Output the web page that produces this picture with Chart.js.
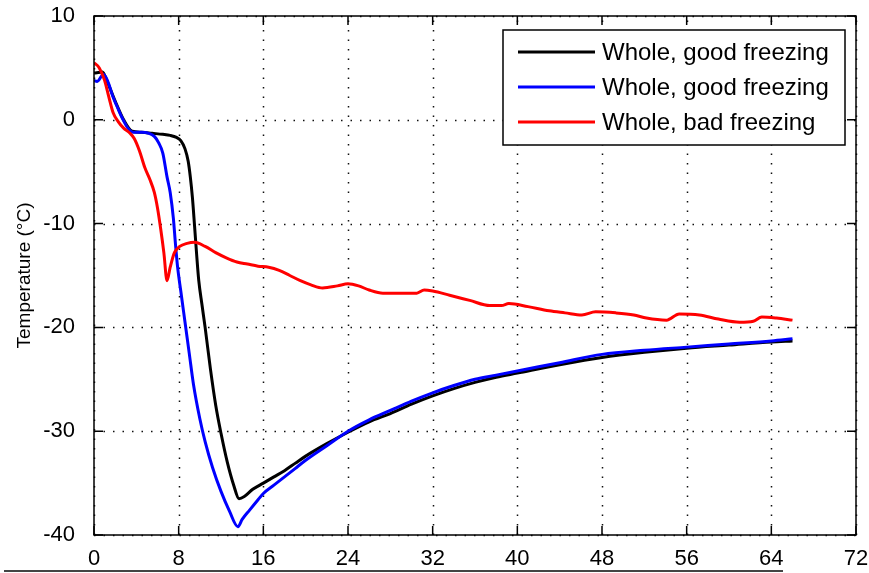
<!DOCTYPE html>
<html>
<head>
<meta charset="utf-8">
<script src="https://cdn.jsdelivr.net/npm/chart.js@4/dist/chart.umd.min.js"></script>
<style>
  html, body { margin: 0; padding: 0; background: #fff; }
  #wrap { width: 869px; height: 573px; }
</style>
</head>
<body>
<div id="wrap"><canvas id="tempChart" width="869" height="573"></canvas></div>
<script>
// Series values (time in hours, temperature in C)
var blackX = [0, 0.8, 1.2, 2.0, 2.8, 3.6, 4.5, 5.5, 6.5, 7.2, 7.8, 8.2, 8.6, 8.9, 9.1, 9.3, 9.5, 9.7, 9.9, 10.2,
  10.5, 11.0, 11.5, 12.0, 12.6, 13.2, 13.7, 14.2, 15.0, 16.0, 17.0, 18.0, 19.0, 20.0, 22.0, 24.0, 26.0, 28.0,
  30.0, 32.0, 34.0, 36.0, 38.0, 40.0, 44.0, 48.0, 52.0, 56.0, 60.0, 64.0, 66.0];
var blackY = [4.5, 4.6, 3.8, 1.8, 0.0, -1.1, -1.2, -1.3, -1.4, -1.5, -1.7, -2.0, -2.8, -4.0, -5.5, -7.5, -10.2, -13.0, -15.5, -17.8,
  -20.0, -24.0, -27.5, -30.2, -33.0, -35.2, -36.5, -36.3, -35.6, -35.0, -34.4, -33.8, -33.1, -32.4, -31.2, -30.1, -29.1, -28.3,
  -27.4, -26.6, -25.9, -25.3, -24.8, -24.4, -23.6, -22.9, -22.4, -22.0, -21.7, -21.4, -21.3];

var blueX = [0, 0.3, 0.9, 1.3, 1.8, 2.3, 2.7, 3.2, 3.7, 4.5, 5.2, 5.7, 6.1, 6.5, 6.9, 7.2, 7.5, 7.7, 7.9, 8.2,
  8.6, 9.0, 9.4, 10.0, 10.5, 11.2, 12.0, 12.8, 13.6, 14.0, 14.7, 15.5, 16.0, 17.0, 18.0, 19.0, 20.0, 22.0,
  24.0, 26.0, 28.0, 30.0, 32.0, 34.0, 36.0, 38.0, 40.0, 44.0, 48.0, 52.0, 56.0, 60.0, 64.0, 66.0];
var blueY = [3.8, 3.7, 4.4, 3.7, 2.2, 1.0, 0.1, -0.8, -1.2, -1.2, -1.3, -1.6, -2.2, -3.2, -5.5, -7.0, -9.5, -12.0, -14.2, -16.5,
  -19.5, -22.5, -25.5, -28.8, -31.0, -33.5, -35.8, -37.7, -39.2, -38.5, -37.6, -36.6, -36.0, -35.2, -34.4, -33.6, -32.8, -31.4,
  -30.0, -28.9, -28.0, -27.1, -26.3, -25.6, -25.0, -24.6, -24.2, -23.4, -22.6, -22.2, -21.9, -21.6, -21.3, -21.1];

var redX = [0, 0.5, 1.0, 1.4, 1.8, 2.3, 2.8, 3.4, 3.8, 4.3, 4.8, 5.3, 5.7, 6.0, 6.3, 6.6, 6.9, 7.2, 7.6, 8.1,
  8.8, 9.5, 10.5, 11.5, 12.5, 13.5, 14.5, 15.5, 16.5, 17.5, 18.5, 19.5, 20.5, 21.6, 23.0, 24.0, 25.0, 26.0,
  27.3, 29.0, 30.5, 31.2, 32.0, 33.6, 35.5, 37.4, 38.5, 39.2, 41.0, 43.0, 44.5, 46.1, 47.4, 49.3, 51.0, 52.2,
  54.1, 55.3, 57.2, 59.0, 61.0, 62.3, 63.1, 64.5, 66.0];
var redY = [5.5, 5.0, 3.8, 2.2, 0.7, -0.2, -0.8, -1.3, -1.8, -3.0, -4.6, -5.8, -7.0, -8.5, -10.5, -12.8, -15.5, -14.2, -12.8, -12.2,
  -11.9, -11.8, -12.2, -12.8, -13.3, -13.7, -13.9, -14.1, -14.2, -14.5, -15.0, -15.5, -15.9, -16.2, -16.0, -15.8, -16.0, -16.4,
  -16.7, -16.7, -16.7, -16.4, -16.5, -16.9, -17.4, -17.9, -17.9, -17.7, -18.0, -18.4, -18.6, -18.8, -18.5, -18.6, -18.8, -19.1,
  -19.3, -18.7, -18.8, -19.2, -19.5, -19.4, -19.0, -19.1, -19.3];

var seriesLabels = ['Whole, good freezing', 'Whole, good freezing', 'Whole, bad freezing'];
var seriesColors = ['#000000', '#0000ff', '#ff0000'];

// Axis ticks
var xTicks = [0, 8, 16, 24, 32, 40, 48, 56, 64, 72];
var yTicks = [-40, -30, -20, -10, 0, 10];

function toPoints(xs, ys) {
    return xs.map(function (x, i) { return { x: x, y: ys[i] }; });
}

// Draws the MATLAB style box: dotted grid, frame, inward ticks, legend
var matlabFrame = {
    id: 'matlabFrame',
    beforeDatasetsDraw: function (chart) {
        var ctx = chart.ctx;
        var area = chart.chartArea;
        var xs = chart.scales.x, ys = chart.scales.y;
        ctx.save();
        ctx.strokeStyle = '#111';
        ctx.lineWidth = 1.5;
        ctx.setLineDash([1.5, 8]);
        xTicks.forEach(function (v) {
            var px = Math.round(xs.getPixelForValue(v)) + 0.5;
            ctx.beginPath();
            ctx.moveTo(px, area.bottom);
            ctx.lineTo(px, area.top);
            ctx.stroke();
        });
        yTicks.forEach(function (v) {
            var py = Math.round(ys.getPixelForValue(v)) + 0.5;
            ctx.beginPath();
            ctx.moveTo(area.left, py);
            ctx.lineTo(area.right, py);
            ctx.stroke();
        });
        ctx.restore();
    },
    afterDatasetsDraw: function (chart) {
        var ctx = chart.ctx;
        var area = chart.chartArea;
        var xs = chart.scales.x, ys = chart.scales.y;
        ctx.save();
        ctx.setLineDash([]);
        ctx.strokeStyle = '#000';
        ctx.lineWidth = 1.5;
        ctx.strokeRect(area.left, area.top, area.right - area.left, area.bottom - area.top);

        // inward tick marks on all four sides
        var tl = 9;
        ctx.beginPath();
        xTicks.forEach(function (v) {
            var px = xs.getPixelForValue(v);
            ctx.moveTo(px, area.bottom); ctx.lineTo(px, area.bottom - tl);
            ctx.moveTo(px, area.top); ctx.lineTo(px, area.top + tl);
        });
        yTicks.forEach(function (v) {
            var py = ys.getPixelForValue(v);
            ctx.moveTo(area.left, py); ctx.lineTo(area.left + tl, py);
            ctx.moveTo(area.right, py); ctx.lineTo(area.right - tl, py);
        });
        ctx.stroke();

        // legend box in the top right corner
        var bx = 503, by = 30, bw = 342, bh = 115;
        ctx.fillStyle = '#fff';
        ctx.fillRect(bx, by, bw, bh);
        ctx.strokeRect(bx, by, bw, bh);
        ctx.font = '24px "Liberation Sans", Arial, sans-serif';
        ctx.textBaseline = 'middle';
        ctx.textAlign = 'left';
        chart.data.datasets.forEach(function (ds, i) {
            var rowY = 52 + i * 35;
            ctx.strokeStyle = ds.borderColor;
            ctx.lineWidth = 3;
            ctx.beginPath();
            ctx.moveTo(518, rowY);
            ctx.lineTo(595, rowY);
            ctx.stroke();
            ctx.fillStyle = '#000';
            ctx.fillText(ds.label, 602, rowY + 1);
        });

        // thin rule along the bottom edge of the picture
        ctx.strokeStyle = '#444';
        ctx.lineWidth = 2;
        ctx.beginPath();
        ctx.moveTo(4, 571);
        ctx.lineTo(783, 571);
        ctx.stroke();
        ctx.restore();
    }
};

var ctx = document.getElementById('tempChart').getContext('2d');
var tempChart = new Chart(ctx, {
    type: 'line',
    data: {
        // order: later series are drawn on top, like the original plot
        datasets: [
            { label: seriesLabels[0], data: toPoints(blackX, blackY), borderColor: seriesColors[0], order: 2 },
            { label: seriesLabels[1], data: toPoints(blueX, blueY), borderColor: seriesColors[1], order: 1 },
            { label: seriesLabels[2], data: toPoints(redX, redY), borderColor: seriesColors[2], order: 0 }
        ]
    },
    options: {
        responsive: false,
        animation: false,
        layout: { padding: { top: 16, right: 13, left: 0, bottom: 0 } },
        elements: {
            line: { borderWidth: 3, cubicInterpolationMode: 'monotone', fill: false },
            point: { radius: 0, hoverRadius: 0 }
        },
        plugins: {
            legend: { display: false },
            tooltip: { enabled: false }
        },
        scales: {
            x: {
                type: 'linear',
                min: 0,
                max: 72,
                afterBuildTicks: function (scale) {
                    scale.ticks = xTicks.map(function (v) { return { value: v }; });
                },
                afterFit: function (scale) {
                    scale.height = 38;
                    scale.paddingLeft = 0;
                    scale.paddingRight = 0;
                },
                grid: { display: false },
                border: { display: false },
                ticks: {
                    color: '#000',
                    padding: 3,
                    maxRotation: 0,
                    font: { family: '"Liberation Sans", Arial, sans-serif', size: 22 }
                }
            },
            y: {
                type: 'linear',
                min: -40,
                max: 10,
                afterBuildTicks: function (scale) {
                    scale.ticks = yTicks.map(function (v) { return { value: v }; });
                },
                afterFit: function (scale) {
                    scale.width = 94;
                    scale.paddingTop = 0;
                    scale.paddingBottom = 0;
                },
                grid: { display: false },
                border: { display: false },
                title: {
                    display: true,
                    text: 'Temperature (°C)',
                    color: '#000',
                    padding: { top: 13, bottom: 0 },
                    font: { family: '"Liberation Sans", Arial, sans-serif', size: 19 }
                },
                ticks: {
                    color: '#000',
                    padding: 11,
                    font: { family: '"Liberation Sans", Arial, sans-serif', size: 22 }
                }
            }
        }
    },
    plugins: [matlabFrame]
});
</script>
</body>
</html>
